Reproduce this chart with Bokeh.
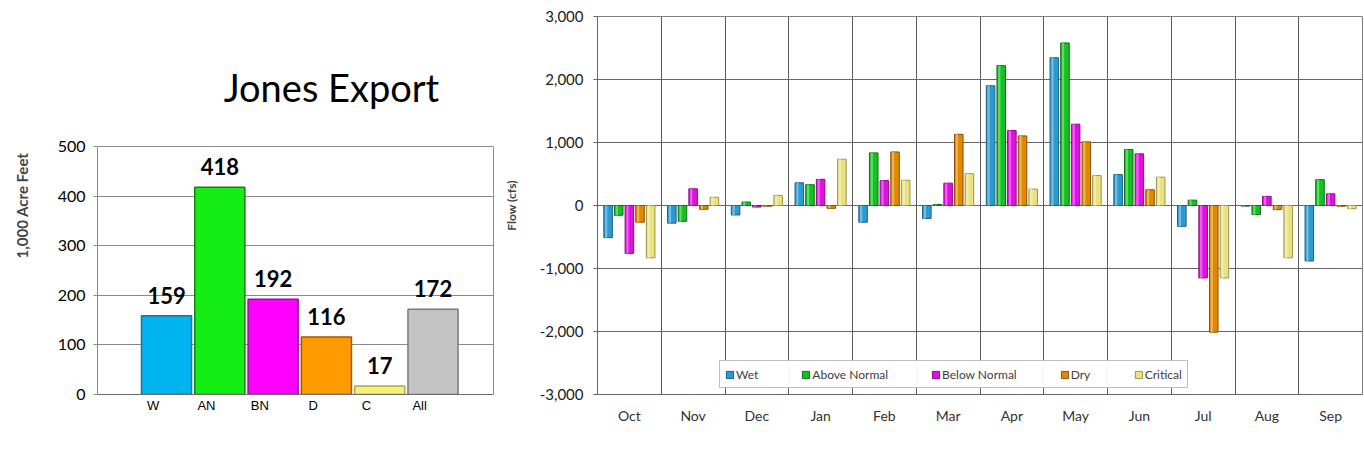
from bokeh.plotting import figure
from bokeh.models import (Range1d, FixedTicker, NumeralTickFormatter, Label, LabelSet,
                          Legend, LegendItem, ColumnDataSource, LinearAxis)
from bokeh.layouts import row
from bokeh.embed import file_html
from bokeh.resources import INLINE
from bokeh.core.properties import value
import numpy as np

# ---------------- data: left chart (annual export, 1,000 acre feet) ----------------
year_types = ["W", "AN", "BN", "D", "C", "All"]
export_taf = [159, 418, 192, 116, 17, 172]
year_type_colors = ["#00b4f0", "#14ee14", "#ff00ff", "#ff9a00", "#f2f27a", "#c4c4c4"]
year_type_lines = ["#2b6f8c", "#1f7a1f", "#8a1a8a", "#9a5c00", "#a8a850", "#7a7a7a"]

# ---------------- data: right chart (monthly flow change, cfs) ----------------
months = ["Oct", "Nov", "Dec", "Jan", "Feb", "Mar", "Apr", "May", "Jun", "Jul", "Aug", "Sep"]
series_names = ["Wet", "Above Normal", "Below Normal", "Dry", "Critical"]
wet = [-510, -280, -150, 360, -265, -205, 1900, 2345, 490, -330, -10, -880]
above_normal = [-155, -250, 55, 330, 835, 15, 2220, 2580, 890, 85, -145, 410]
below_normal = [-760, 265, -25, 415, 395, 355, 1190, 1290, 820, -1150, 145, 185]
dry = [-265, -60, -12, -45, 850, 1130, 1105, 1010, 250, -2010, -65, -12]
critical = [-830, 130, 160, 735, 400, 505, 260, 475, 450, -1150, -830, -50]
series_colors = ["#2a9ad2", "#12c21e", "#e010e0", "#e08800", "#e8e282"]
series_lines = ["#1d5f80", "#0f6e16", "#861086", "#8a5200", "#9a9648"]

FONT = "Lato"


def tint(hex_color, f):
    c = [int(hex_color[i:i + 2], 16) for i in (1, 3, 5)]
    c = [int(round(v + (255 - v) * f)) for v in c]
    return "#%02x%02x%02x" % tuple(c)


# Both figures share the same frame top/bottom (Bokeh aligns frames in a row)
TOP, BOTTOM = 16, 68
FRAME_H = 462 - TOP - BOTTOM

# ======================= LEFT FIGURE =======================
# left chart: value 500 sits 130 px below the frame top
px_per_unit = (FRAME_H - 130) / 500.0
left_ymax = FRAME_H / px_per_unit
left = figure(width=500, height=462, x_range=Range1d(-1.045, 6.385),
              y_range=Range1d(0, left_ymax),
              output_backend="svg", toolbar_location=None,
              min_border_left=97, min_border_right=7, min_border_top=TOP, min_border_bottom=BOTTOM)
left.outline_line_color = None
left.background_fill_color = "white"
left.border_fill_color = "white"

xi = np.arange(len(year_types))
src_l = ColumnDataSource(dict(x=xi + 0.25, top=export_taf, fill=year_type_colors,
                              line=year_type_lines, lab=[str(v) for v in export_taf]))
left.vbar(x="x", top="top", bottom=0, width=0.94, fill_color="fill", line_color="line",
          line_width=1.5, source=src_l)
left.add_layout(LabelSet(x="x", y="top", text="lab", source=src_l, y_offset=12,
                         text_align="center", text_baseline="bottom",
                         text_font=value(FONT), text_font_size=value("22px"),
                         text_font_style=value("bold"), text_color=value("black")))

left.xgrid.visible = False
left.ygrid.grid_line_color = "#8a8a8a"
left.ygrid.ticker = FixedTicker(ticks=list(range(0, 501, 100)))
left.yaxis.ticker = FixedTicker(ticks=list(range(0, 501, 100)))
left.yaxis.bounds = (0, 500)
left.yaxis.axis_label = "1,000 Acre Feet"
left.yaxis.axis_label_text_font = FONT
left.yaxis.axis_label_text_font_size = "15px"
left.yaxis.axis_label_text_font_style = "bold"
left.yaxis.axis_label_standoff = 24
left.yaxis.major_label_text_font = FONT
left.yaxis.major_label_text_font_size = "16px"
left.yaxis.major_label_text_color = "black"
left.yaxis.major_label_standoff = 8
left.yaxis.major_tick_out = 4
left.yaxis.major_tick_in = 0
left.yaxis.minor_tick_line_color = None
left.yaxis.axis_line_color = "#8a8a8a"
left.yaxis.major_tick_line_color = "#8a8a8a"

# right border of the plot area (0..500)
rborder = LinearAxis(bounds=(0, 500), ticker=FixedTicker(ticks=[]), major_tick_out=0,
                     major_tick_in=0, minor_tick_line_color=None, axis_line_color="#8a8a8a",
                     major_label_text_font_size="0px")
left.add_layout(rborder, "right")

left.xaxis.ticker = FixedTicker(ticks=list(xi))
left.xaxis.major_label_overrides = {int(i): t for i, t in zip(xi, year_types)}
left.xaxis.major_label_text_font = "Liberation Sans"
left.xaxis.major_label_text_font_size = "13px"
left.xaxis.major_label_text_color = "black"
left.xaxis.major_label_standoff = 3
left.xaxis.major_tick_out = 0
left.xaxis.major_tick_in = 0
left.xaxis.minor_tick_line_color = None
left.xaxis.axis_line_color = "#6a6a6a"

left.add_layout(Label(x=3.345, y=(394 - 86) / px_per_unit, text="Jones Export",
                      text_font=FONT, text_font_size="38px",
                      text_align="center", text_baseline="middle", text_color="black"))

# ======================= RIGHT FIGURE =======================
right = figure(width=864, height=462, x_range=Range1d(-0.5, 11.5), y_range=Range1d(-3000, 3000),
               output_backend="svg", toolbar_location=None,
               min_border_left=94, min_border_right=2, min_border_top=TOP, min_border_bottom=BOTTOM)
right.outline_line_color = "#808080"
right.background_fill_color = "white"
right.border_fill_color = "white"

mi = np.arange(len(months))
all_series = [wet, above_normal, below_normal, dry, critical]
items = []
for k, (name, vals) in enumerate(zip(series_names, all_series)):
    xk = mi + (k - 2) * 0.167
    r = right.vbar(x=xk, top=vals, bottom=0, width=0.134,
                   fill_color=series_colors[k], line_color=series_lines[k], line_width=1)
    right.vbar(x=xk - 0.03, top=vals, bottom=0, width=0.035,
               fill_color=tint(series_colors[k], 0.35), line_color=None)
    items.append(LegendItem(label=name, renderers=[r]))

right.xgrid.ticker = FixedTicker(ticks=[i - 0.5 for i in range(len(months) + 1)])
right.xgrid.grid_line_color = "#5a5a5a"
right.ygrid.ticker = FixedTicker(ticks=list(range(-3000, 3001, 1000)))
right.ygrid.grid_line_color = "#666666"

right.yaxis.ticker = FixedTicker(ticks=list(range(-3000, 3001, 1000)))
right.yaxis.formatter = NumeralTickFormatter(format="0,0")
right.yaxis.axis_label = "Flow (cfs)"
right.yaxis.axis_label_text_font = FONT
right.yaxis.axis_label_text_font_size = "12px"
right.yaxis.axis_label_text_font_style = "bold"
right.yaxis.axis_label_standoff = 18
right.yaxis.major_label_text_font = FONT
right.yaxis.major_label_text_font_size = "15px"
right.yaxis.major_label_text_color = "#222222"
right.yaxis.major_label_standoff = 10
right.yaxis.major_tick_out = 4
right.yaxis.major_tick_in = 0
right.yaxis.minor_tick_line_color = None
right.yaxis.axis_line_color = "#666666"
right.yaxis.major_tick_line_color = "#666666"

right.xaxis.ticker = FixedTicker(ticks=list(mi))
right.xaxis.major_label_overrides = {int(i): m for i, m in zip(mi, months)}
right.xaxis.major_label_text_font = FONT
right.xaxis.major_label_text_font_size = "14px"
right.xaxis.major_label_text_color = "#333333"
right.xaxis.major_label_standoff = 12
right.xaxis.major_tick_out = 0
right.xaxis.major_tick_in = 0
right.xaxis.minor_tick_line_color = None
right.xaxis.axis_line_color = "#666666"

# legend kept inside the plot frame (in the empty band above -3,000)
legend = Legend(items=items, orientation="horizontal", location=(122, 6),
                label_text_font=FONT, label_text_font_size="12px", label_text_color="#404040",
                glyph_width=9, glyph_height=9, label_standoff=2, spacing=43,
                padding=5, margin=0, label_height=16,
                border_line_color="#808080", border_line_width=1, background_fill_color="white")
right.add_layout(legend, "center")

layout = row(left, right)
open("out.html", "w").write(file_html(layout, INLINE))
